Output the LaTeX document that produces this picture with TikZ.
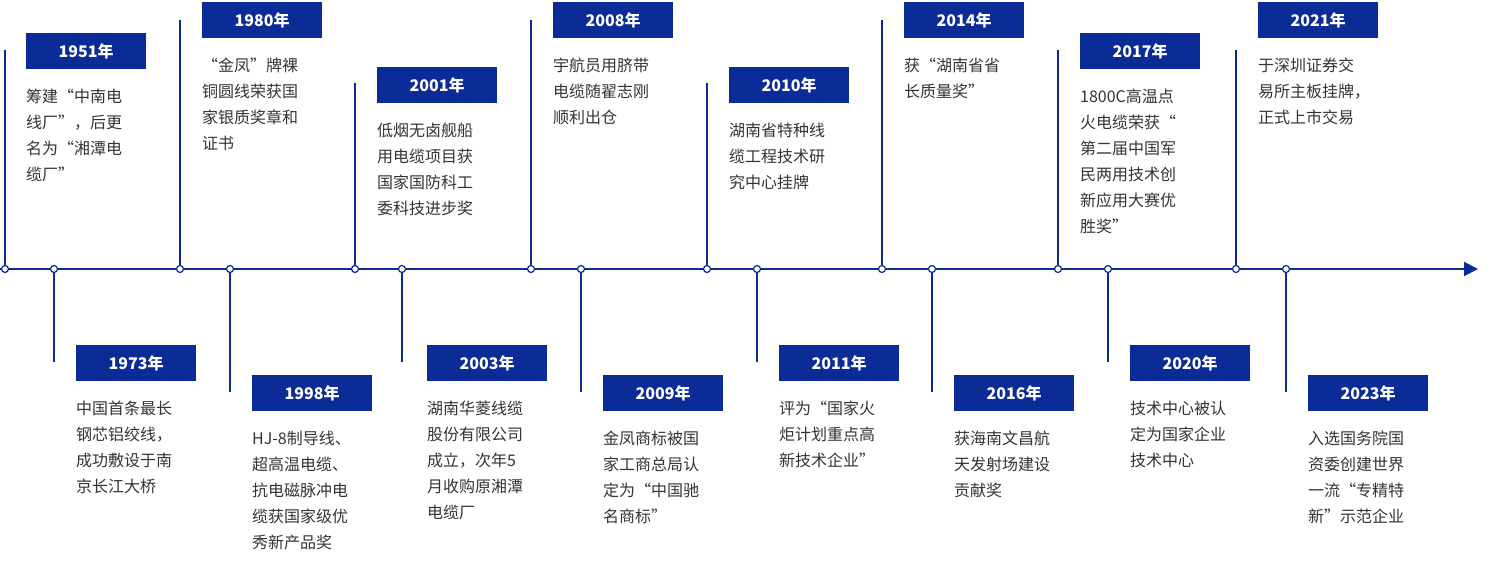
\documentclass[tikz,border=0pt]{standalone}
\usepackage{fontspec}
\setmainfont{Noto Sans CJK SC}
\usetikzlibrary{arrows.meta}
\definecolor{tlblue}{HTML}{0B2C96}
\definecolor{tltext}{HTML}{333333}
\tikzset{
  yearbox/.style={fill=tlblue,text=white,font=\bfseries\fontsize{16}{18}\selectfont,minimum width=120pt,minimum height=36pt,inner sep=0pt,anchor=north west},
  desc/.style={text=tltext,font=\fontsize{16}{26}\selectfont,align=left,anchor=north west,inner sep=0pt},
  dot/.style={circle,draw=tlblue,fill=white,line width=1.2pt,minimum size=7pt,inner sep=0pt},
  stem/.style={draw=tlblue,line width=1.5pt}
}
\begin{document}
\begin{tikzpicture}[x=1pt,y=-1pt]
\useasboundingbox (0,0) rectangle (1500,569);
\coordinate (L) at (0,269);
\coordinate (R) at (1478,269);
\draw[tlblue,line width=2pt,-{Triangle[length=14pt,width=14pt]}] (L) -- (R);
\foreach \n/\x/\tp/\bx/\by/\yr/\txt in {
 a/5/50/26/33/1951/{筹建“中南电\\线厂”，后更\\名为“湘潭电\\缆厂”},
 b/180/20/202/2/1980/{“金凤”牌裸\\铜圆线荣获国\\家银质奖章和\\证书},
 c/355/83/377/67/2001/{低烟无卤舰船\\用电缆项目获\\国家国防科工\\委科技进步奖},
 d/531/20/553/2/2008/{宇航员用脐带\\电缆随翟志刚\\顺利出仓},
 e/707/83/729/67/2010/{湖南省特种线\\缆工程技术研\\究中心挂牌},
 f/882/20/904/2/2014/{获“湖南省省\\长质量奖”},
 g/1058/50/1080/33/2017/{1800C高温点\\火电缆荣获“\\第二届中国军\\民两用技术创\\新应用大赛优\\胜奖”},
 h/1236/50/1258/2/2021/{于深圳证券交\\易所主板挂牌，\\正式上市交易},
 i/54/362/76/345/1973/{中国首条最长\\钢芯铝绞线，\\成功敷设于南\\京长江大桥},
 j/230/392/252/375/1998/{HJ-8制导线、\\超高温电缆、\\抗电磁脉冲电\\缆获国家级优\\秀新产品奖},
 k/402/362/427/345/2003/{湖南华菱线缆\\股份有限公司\\成立，次年5\\月收购原湘潭\\电缆厂},
 l/581/392/603/375/2009/{金凤商标被国\\家工商总局认\\定为“中国驰\\名商标”},
 m/757/362/779/345/2011/{评为“国家火\\炬计划重点高\\新技术企业”},
 o/932/392/954/375/2016/{获海南文昌航\\天发射场建设\\贡献奖},
 q/1108/362/1130/345/2020/{技术中心被认\\定为国家企业\\技术中心},
 r/1286/392/1308/375/2023/{入选国务院国\\资委创建世界\\一流“专精特\\新”示范企业}}
{
 \node[dot] (p\n) at (\x,269) {};
 \coordinate (t\n) at (\x,\tp);
 \draw[stem] (p\n) -- (t\n);
 \node[yearbox] (y\n) at (\bx,\by) {{\yr}年};
 \node[desc] (d\n) at ([yshift=-19pt]y\n.south west) {\txt};
}
\end{tikzpicture}
\end{document}
